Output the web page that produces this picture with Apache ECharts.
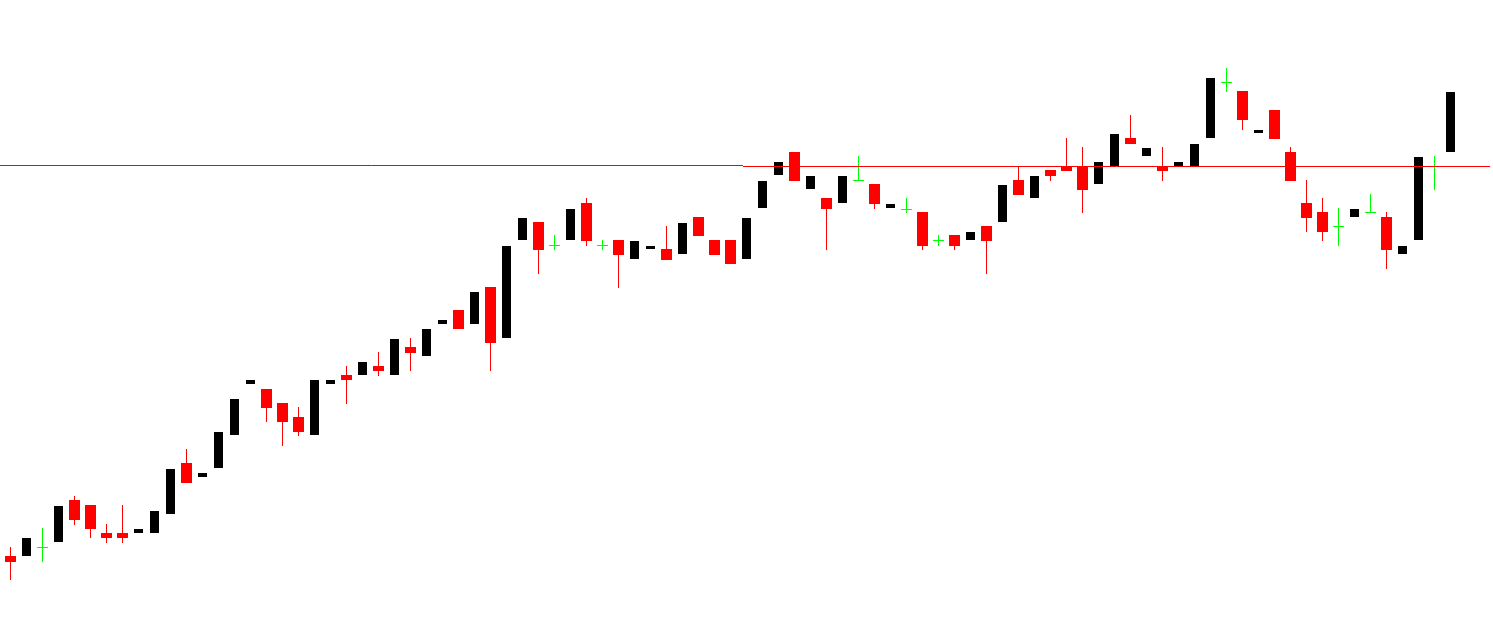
<!DOCTYPE html>
<html>
<head>
<meta charset="utf-8">
<script src="https://cdn.jsdelivr.net/npm/echarts@6/dist/echarts.min.js"></script>
<style>
html,body{margin:0;padding:0;background:#fff;}
#chart{width:1493px;height:619px;}
</style>
</head>
<body>
<div id="chart"></div>
<script>
// Candle data (price units), index = bar number
var opens  = [63,63,72,77,119,114,86,86,86,86,105,156,142,151,184,235,230,216,202,184,235,244,244,253,244,272,263,295,309,295,332,281,379,397,374,379,416,374,379,360,370,370,365,402,379,379,360,411,444,467,430,421,416,439,435,411,410,407,379,384,379,393,397,439,421,449,453,453,435,453,481,463,452,453,453,481,537,528,486,509,467,416,407,393,402,407,402,365,379,453,467];
var closes = [57,81,72,113,99,90,81,81,90,108,150,136,146,187,220,239,211,197,187,239,239,239,257,248,280,266,290,299,290,327,276,373,401,369,374,410,378,374,364,378,373,359,396,383,364,355,401,438,457,438,443,410,443,439,415,415,410,373,379,373,387,378,434,424,443,443,448,429,457,485,475,471,448,457,475,541,537,499,489,480,438,401,387,393,410,407,369,373,462,453,527];
var highs  = [72,81,91,113,123,114,95,114,90,108,150,170,146,187,220,239,230,216,212,239,239,253,257,267,280,281,290,299,309,327,332,373,401,397,384,410,421,379,379,378,373,393,396,402,379,379,401,438,457,467,443,421,443,463,435,415,421,407,384,384,387,393,434,453,443,449,481,472,457,485,504,471,472,457,475,541,551,528,489,509,472,439,421,411,410,425,407,373,462,463,527];
var lows   = [39,63,57,77,94,81,76,76,86,86,105,136,142,151,184,235,197,173,183,184,235,215,244,243,244,248,263,295,290,295,248,281,379,345,369,379,373,369,331,360,370,359,365,383,364,355,360,411,444,438,430,369,416,439,410,411,406,369,373,369,379,345,397,424,421,438,448,406,435,453,475,463,438,453,453,481,527,489,486,480,438,387,378,373,402,407,350,365,379,429,467];
// Horizontal level lines: [xStart, xEnd, level]
var levelLeft  = [-0.65625, 45.78, 453.5];
var levelRight = [45.78, 92.47, 452.5];

var candleData = [];
for (var i = 0; i < opens.length; i++) {
  candleData.push([i, opens[i], closes[i], highs[i], lows[i]]);
}

var chart = echarts.init(document.getElementById('chart'), null, {renderer: 'canvas'});

function renderCandle(params, api) {
  var i = api.value(0), o = api.value(1), c = api.value(2), h = api.value(3), l = api.value(4);
  var pO = api.coord([i, o]), pC = api.coord([i, c]), pH = api.coord([i, h]), pL = api.coord([i, l]);
  var x = pO[0];
  var children = [];
  if (c > o) {
    children.push({type: 'rect', shape: {x: x - 4.5, y: pC[1], width: 9, height: pO[1] - pC[1]}, style: {fill: '#000000'}});
  } else if (c < o) {
    if (pL[1] - pH[1] > 0) {
      children.push({type: 'rect', shape: {x: x - 0.5, y: pH[1], width: 1, height: pL[1] - pH[1]}, style: {fill: '#ff0000'}});
    }
    children.push({type: 'rect', shape: {x: x - 5.5, y: pO[1], width: 11, height: pC[1] - pO[1]}, style: {fill: '#ff0000'}});
  } else {
    children.push({type: 'rect', shape: {x: x - 0.5, y: pH[1], width: 1, height: Math.max(1, pL[1] - pH[1])}, style: {fill: '#00ff00'}});
    children.push({type: 'rect', shape: {x: x - 5.5, y: pO[1], width: 11, height: 1}, style: {fill: '#00ff00'}});
  }
  return {type: 'group', children: children};
}

chart.setOption({
  animation: false,
  backgroundColor: '#ffffff',
  grid: {left: 0, right: 0, top: 0, bottom: 0},
  xAxis: {type: 'value', min: -0.65625, max: 92.65625, show: false},
  yAxis: {type: 'value', min: 0, max: 619, show: false},
  series: [
    {
      type: 'custom',
      renderItem: renderCandle,
      data: candleData,
      encode: {x: 0, y: [1, 2, 3, 4]},
      clip: false,
      z: 2
    },
    {
      type: 'line',
      data: [[levelLeft[0], levelLeft[2]], [levelLeft[1], levelLeft[2]]],
      symbol: 'none',
      lineStyle: {color: '#ff0000', width: 1},
      silent: true,
      clip: false,
      z: 5
    },
    {
      type: 'line',
      data: [[levelRight[0], levelRight[2]], [levelRight[1], levelRight[2]]],
      symbol: 'none',
      lineStyle: {color: '#ff0000', width: 1},
      silent: true,
      clip: false,
      z: 5
    }
  ]
});
</script>
</body>
</html>
